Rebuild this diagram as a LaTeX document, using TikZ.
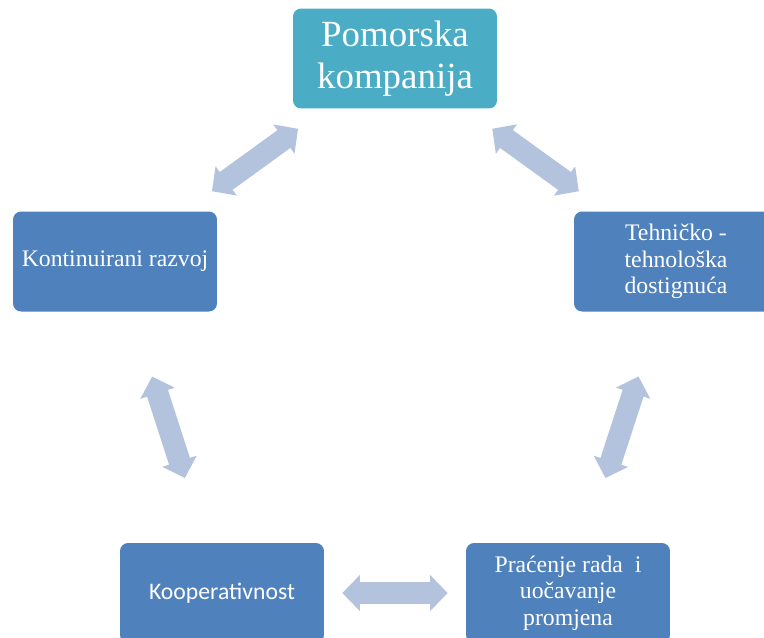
\documentclass[tikz,border=0pt]{standalone}
\usepackage{fontspec}
\setmainfont{Liberation Serif}
\newfontfamily\carlito{Carlito}
\usetikzlibrary{arrows.meta}
\definecolor{tealbox}{HTML}{4BACC6}
\definecolor{bluebox}{HTML}{4F81BD}
\definecolor{arrowfill}{RGB}{179,195,222}

\begin{document}
\begin{tikzpicture}[x=0.02cm, y=-0.02cm,
    box/.style={rounded corners=0.16cm, minimum width=4.08cm, minimum height=2cm,
        text=white, align=center, inner sep=2pt, font=\fontsize{13.5}{15}\selectfont},
    link/.style={arrowfill, line width=12.5pt,
        {Triangle[length=10pt,width=20pt]}-{Triangle[length=10pt,width=20pt]}}]
    \useasboundingbox (0,0) rectangle (764,637);
    \clip (0,0) rectangle (764,637);

    % Boxes
    \node[box, fill=tealbox, font=\fontsize{21}{23.5}\selectfont] (pom) at (395,58.5) {Pomorska\\kompanija};
    \node[box, fill=bluebox] (kont) at (115,261.5) {Kontinuirani razvoj};
    \node[box, fill=bluebox] (teh) at (676,261.5) {Tehničko -\\tehnološka\\dostignuća};
    \node[box, fill=bluebox, font=\carlito\fontsize{13.5}{15}\selectfont] (koop) at (222,593) {Kooperativnost};
    \node[box, fill=bluebox] (prac) at (568,593) {Praćenje rada\ \ i\\uočavanje\\promjena};

    % Double arrows between boxes
    \draw[link, shorten <=0.68cm, shorten >=0.68cm] (kont) -- (pom);
    \draw[link, shorten <=0.68cm, shorten >=0.68cm] (pom) -- (teh);
    \draw[link, shorten <=1.36cm, shorten >=1.36cm] (kont) -- (koop);
    \draw[link, shorten <=1.36cm, shorten >=1.36cm] (teh) -- (prac);
    \draw[link, shorten <=0.36cm, shorten >=0.36cm] (koop) -- (prac);
\end{tikzpicture}
\end{document}
